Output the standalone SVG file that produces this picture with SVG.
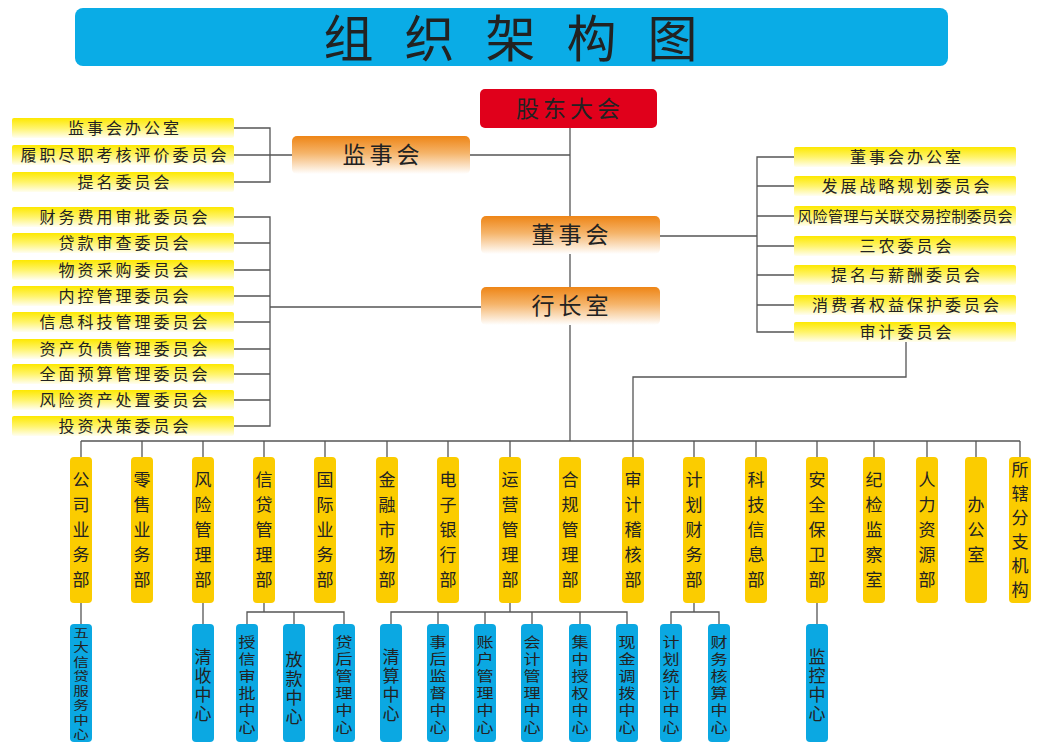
<svg xmlns="http://www.w3.org/2000/svg" width="1060" height="752" viewBox="0 0 1060 752">
<defs>
<linearGradient id="gOr" x1="0" y1="0" x2="0" y2="1">
<stop offset="0" stop-color="#ee8516"/><stop offset="0.45" stop-color="#f5b46a"/><stop offset="1" stop-color="#ffffff"/>
</linearGradient>
<linearGradient id="gYe" x1="0" y1="0" x2="0" y2="1">
<stop offset="0" stop-color="#fde800"/><stop offset="0.5" stop-color="#fff46a"/><stop offset="1" stop-color="#fffef2"/>
</linearGradient>
<style>
text{font-family:"Noto Sans CJK SC","Noto Sans",sans-serif;fill:#222}
.ln{stroke:#555;stroke-width:1.3;fill:none}
.ye{fill:url(#gYe)}
.or{fill:url(#gOr)}
.dept{fill:#fbcc00}
.sub{fill:#0ba8e2}
.t16{font-size:16px;letter-spacing:3px;text-anchor:middle}
.t22{font-size:23px;letter-spacing:4px;text-anchor:middle}
.v{font-size:17px;text-anchor:middle}
.vs{font-size:14px;text-anchor:middle}
.v8{font-size:12px;text-anchor:middle}
</style>
</defs>
<rect width="1060" height="752" fill="#ffffff"/>

<g id="title">
<rect x="75" y="8" width="873" height="58" rx="8" fill="#0aace6"/>
<text x="526" y="57" font-size="50" text-anchor="middle" letter-spacing="31" fill="#111">组织架构图</text>
</g>

<g id="connectors">
<line class="ln" x1="570" y1="128" x2="570" y2="441"/>
<line class="ln" x1="470" y1="155" x2="570" y2="155"/>
<polyline class="ln" points="234,128 270,128 270,182 234,182"/>
<line class="ln" x1="234" y1="155" x2="292" y2="155"/>
<polyline class="ln" points="234,217 270,217 270,426 234,426"/>
<line class="ln" x1="234" y1="243" x2="270" y2="243"/>
<line class="ln" x1="234" y1="270" x2="270" y2="270"/>
<line class="ln" x1="234" y1="296" x2="270" y2="296"/>
<line class="ln" x1="234" y1="322" x2="270" y2="322"/>
<line class="ln" x1="234" y1="349" x2="270" y2="349"/>
<line class="ln" x1="234" y1="374" x2="270" y2="374"/>
<line class="ln" x1="234" y1="400" x2="270" y2="400"/>
<line class="ln" x1="270" y1="307" x2="481" y2="307"/>
<line class="ln" x1="660" y1="236" x2="757" y2="236"/>
<polyline class="ln" points="794,157 757,157 757,332 794,332"/>
<line class="ln" x1="757" y1="186" x2="794" y2="186"/>
<line class="ln" x1="757" y1="216" x2="794" y2="216"/>
<line class="ln" x1="757" y1="246" x2="794" y2="246"/>
<line class="ln" x1="757" y1="275" x2="794" y2="275"/>
<line class="ln" x1="757" y1="305" x2="794" y2="305"/>
<polyline class="ln" points="906,342 906,377 633,377 633,457"/>
<line class="ln" x1="81" y1="441" x2="1020" y2="441"/>
<line class="ln" x1="81" y1="441" x2="81" y2="457"/>
<line class="ln" x1="142" y1="441" x2="142" y2="457"/>
<line class="ln" x1="203" y1="441" x2="203" y2="457"/>
<line class="ln" x1="264" y1="441" x2="264" y2="457"/>
<line class="ln" x1="325" y1="441" x2="325" y2="457"/>
<line class="ln" x1="387" y1="441" x2="387" y2="457"/>
<line class="ln" x1="448" y1="441" x2="448" y2="457"/>
<line class="ln" x1="510" y1="441" x2="510" y2="457"/>
<line class="ln" x1="694" y1="441" x2="694" y2="457"/>
<line class="ln" x1="756" y1="441" x2="756" y2="457"/>
<line class="ln" x1="817" y1="441" x2="817" y2="457"/>
<line class="ln" x1="874" y1="441" x2="874" y2="457"/>
<line class="ln" x1="927" y1="441" x2="927" y2="457"/>
<line class="ln" x1="976" y1="441" x2="976" y2="457"/>
<line class="ln" x1="1020" y1="441" x2="1020" y2="457"/>
<line class="ln" x1="81" y1="603" x2="81" y2="624"/>
<line class="ln" x1="203" y1="603" x2="203" y2="624"/>
<line class="ln" x1="264" y1="603" x2="264" y2="612"/>
<polyline class="ln" points="247,624 247,612 344,612 344,624"/>
<line class="ln" x1="294" y1="612" x2="294" y2="624"/>
<line class="ln" x1="510" y1="603" x2="510" y2="612"/>
<polyline class="ln" points="391,624 391,612 627,612 627,624"/>
<line class="ln" x1="438" y1="612" x2="438" y2="624"/>
<line class="ln" x1="485" y1="612" x2="485" y2="624"/>
<line class="ln" x1="532" y1="612" x2="532" y2="624"/>
<line class="ln" x1="580" y1="612" x2="580" y2="624"/>
<line class="ln" x1="694" y1="603" x2="694" y2="612"/>
<polyline class="ln" points="671,624 671,612 719,612 719,624"/>
<line class="ln" x1="817" y1="603" x2="817" y2="624"/>
</g>

<g id="gudong"><rect x="480" y="89" width="177" height="39" rx="5" fill="#e0001b"/><text class="t22" x="570" y="117">股东大会</text></g>
<g id="jianshihui"><rect class="or" x="292" y="136" width="178" height="38" rx="5"/><text class="t22" x="383" y="163">监事会</text></g>
<g id="dongshihui"><rect class="or" x="481" y="216" width="179" height="38" rx="5"/><text class="t22" x="572" y="243">董事会</text></g>
<g id="hangzhangshi"><rect class="or" x="481" y="287" width="179" height="38" rx="5"/><text class="t22" x="572" y="314">行长室</text></g>

<g id="left-top">
<g id="l1"><rect class="ye" x="12" y="118" width="222" height="20" rx="2"/><text class="t16" x="125" y="134">监事会办公室</text></g>
<g id="l2"><rect class="ye" x="12" y="145" width="222" height="20" rx="2"/><text class="t16" x="125" y="161">履职尽职考核评价委员会</text></g>
<g id="l3"><rect class="ye" x="12" y="172" width="222" height="20" rx="2"/><text class="t16" x="125" y="188">提名委员会</text></g>
</g>

<g id="left-bottom">
<g id="p1"><rect class="ye" x="12" y="207" width="222" height="20" rx="2"/><text class="t16" x="125" y="223">财务费用审批委员会</text></g>
<g id="p2"><rect class="ye" x="12" y="233" width="222" height="20" rx="2"/><text class="t16" x="125" y="249">贷款审查委员会</text></g>
<g id="p3"><rect class="ye" x="12" y="260" width="222" height="20" rx="2"/><text class="t16" x="125" y="276">物资采购委员会</text></g>
<g id="p4"><rect class="ye" x="12" y="286" width="222" height="20" rx="2"/><text class="t16" x="125" y="302">内控管理委员会</text></g>
<g id="p5"><rect class="ye" x="12" y="312" width="222" height="20" rx="2"/><text class="t16" x="125" y="328">信息科技管理委员会</text></g>
<g id="p6"><rect class="ye" x="12" y="339" width="222" height="20" rx="2"/><text class="t16" x="125" y="355">资产负债管理委员会</text></g>
<g id="p7"><rect class="ye" x="12" y="364" width="222" height="20" rx="2"/><text class="t16" x="125" y="380">全面预算管理委员会</text></g>
<g id="p8"><rect class="ye" x="12" y="390" width="222" height="20" rx="2"/><text class="t16" x="125" y="406">风险资产处置委员会</text></g>
<g id="p9"><rect class="ye" x="12" y="416" width="222" height="20" rx="2"/><text class="t16" x="125" y="432">投资决策委员会</text></g>
</g>

<g id="right">
<g id="r1"><rect class="ye" x="794" y="147" width="222" height="20" rx="2"/><text class="t16" x="907" y="163">董事会办公室</text></g>
<g id="r2"><rect class="ye" x="794" y="176" width="222" height="20" rx="2"/><text class="t16" x="907" y="192">发展战略规划委员会</text></g>
<g id="r3"><rect class="ye" x="794" y="206" width="222" height="20" rx="2"/><text x="905" y="222" font-size="15" text-anchor="middle" letter-spacing="0.4">风险管理与关联交易控制委员会</text></g>
<g id="r4"><rect class="ye" x="794" y="236" width="222" height="20" rx="2"/><text class="t16" x="907" y="252">三农委员会</text></g>
<g id="r5"><rect class="ye" x="794" y="265" width="222" height="20" rx="2"/><text class="t16" x="907" y="281">提名与薪酬委员会</text></g>
<g id="r6"><rect class="ye" x="794" y="295" width="222" height="20" rx="2"/><text class="t16" x="907" y="311">消费者权益保护委员会</text></g>
<g id="r7"><rect class="ye" x="794" y="322" width="222" height="20" rx="2"/><text class="t16" x="907" y="338">审计委员会</text></g>
</g>

<g id="departments">
<g id="d1"><rect class="dept" x="70" y="457" width="22" height="146" rx="4"/><text class="v"><tspan x="81" y="486">公</tspan><tspan x="81" y="511">司</tspan><tspan x="81" y="536">业</tspan><tspan x="81" y="561">务</tspan><tspan x="81" y="586">部</tspan></text></g>
<g id="d2"><rect class="dept" x="131" y="457" width="22" height="146" rx="4"/><text class="v"><tspan x="142" y="486">零</tspan><tspan x="142" y="511">售</tspan><tspan x="142" y="536">业</tspan><tspan x="142" y="561">务</tspan><tspan x="142" y="586">部</tspan></text></g>
<g id="d3"><rect class="dept" x="192" y="457" width="22" height="146" rx="4"/><text class="v"><tspan x="203" y="486">风</tspan><tspan x="203" y="511">险</tspan><tspan x="203" y="536">管</tspan><tspan x="203" y="561">理</tspan><tspan x="203" y="586">部</tspan></text></g>
<g id="d4"><rect class="dept" x="253" y="457" width="22" height="146" rx="4"/><text class="v"><tspan x="264" y="486">信</tspan><tspan x="264" y="511">贷</tspan><tspan x="264" y="536">管</tspan><tspan x="264" y="561">理</tspan><tspan x="264" y="586">部</tspan></text></g>
<g id="d5"><rect class="dept" x="314" y="457" width="22" height="146" rx="4"/><text class="v"><tspan x="325" y="486">国</tspan><tspan x="325" y="511">际</tspan><tspan x="325" y="536">业</tspan><tspan x="325" y="561">务</tspan><tspan x="325" y="586">部</tspan></text></g>
<g id="d6"><rect class="dept" x="376" y="457" width="22" height="146" rx="4"/><text class="v"><tspan x="387" y="486">金</tspan><tspan x="387" y="511">融</tspan><tspan x="387" y="536">市</tspan><tspan x="387" y="561">场</tspan><tspan x="387" y="586">部</tspan></text></g>
<g id="d7"><rect class="dept" x="437" y="457" width="22" height="146" rx="4"/><text class="v"><tspan x="448" y="486">电</tspan><tspan x="448" y="511">子</tspan><tspan x="448" y="536">银</tspan><tspan x="448" y="561">行</tspan><tspan x="448" y="586">部</tspan></text></g>
<g id="d8"><rect class="dept" x="499" y="457" width="22" height="146" rx="4"/><text class="v"><tspan x="510" y="486">运</tspan><tspan x="510" y="511">营</tspan><tspan x="510" y="536">管</tspan><tspan x="510" y="561">理</tspan><tspan x="510" y="586">部</tspan></text></g>
<g id="d9"><rect class="dept" x="559" y="457" width="22" height="146" rx="4"/><text class="v"><tspan x="570" y="486">合</tspan><tspan x="570" y="511">规</tspan><tspan x="570" y="536">管</tspan><tspan x="570" y="561">理</tspan><tspan x="570" y="586">部</tspan></text></g>
<g id="d10"><rect class="dept" x="622" y="457" width="22" height="146" rx="4"/><text class="v"><tspan x="633" y="486">审</tspan><tspan x="633" y="511">计</tspan><tspan x="633" y="536">稽</tspan><tspan x="633" y="561">核</tspan><tspan x="633" y="586">部</tspan></text></g>
<g id="d11"><rect class="dept" x="683" y="457" width="22" height="146" rx="4"/><text class="v"><tspan x="694" y="486">计</tspan><tspan x="694" y="511">划</tspan><tspan x="694" y="536">财</tspan><tspan x="694" y="561">务</tspan><tspan x="694" y="586">部</tspan></text></g>
<g id="d12"><rect class="dept" x="745" y="457" width="22" height="146" rx="4"/><text class="v"><tspan x="756" y="486">科</tspan><tspan x="756" y="511">技</tspan><tspan x="756" y="536">信</tspan><tspan x="756" y="561">息</tspan><tspan x="756" y="586">部</tspan></text></g>
<g id="d13"><rect class="dept" x="806" y="457" width="22" height="146" rx="4"/><text class="v"><tspan x="817" y="486">安</tspan><tspan x="817" y="511">全</tspan><tspan x="817" y="536">保</tspan><tspan x="817" y="561">卫</tspan><tspan x="817" y="586">部</tspan></text></g>
<g id="d14"><rect class="dept" x="863" y="457" width="22" height="146" rx="4"/><text class="v"><tspan x="874" y="486">纪</tspan><tspan x="874" y="511">检</tspan><tspan x="874" y="536">监</tspan><tspan x="874" y="561">察</tspan><tspan x="874" y="586">室</tspan></text></g>
<g id="d15"><rect class="dept" x="916" y="457" width="22" height="146" rx="4"/><text class="v"><tspan x="927" y="486">人</tspan><tspan x="927" y="511">力</tspan><tspan x="927" y="536">资</tspan><tspan x="927" y="561">源</tspan><tspan x="927" y="586">部</tspan></text></g>
<g id="d16"><rect class="dept" x="965" y="457" width="22" height="146" rx="4"/><text class="v"><tspan x="976" y="511">办</tspan><tspan x="976" y="536">公</tspan><tspan x="976" y="561">室</tspan></text></g>
<g id="d17"><rect class="dept" x="1009" y="457" width="22" height="146" rx="4"/><text class="v"><tspan x="1020" y="476">所</tspan><tspan x="1020" y="500">辖</tspan><tspan x="1020" y="524">分</tspan><tspan x="1020" y="548">支</tspan><tspan x="1020" y="572">机</tspan><tspan x="1020" y="596">构</tspan></text></g>
</g>

<g id="centers">
<g id="c1"><rect class="sub" x="70" y="624" width="22" height="118" rx="4"/><text class="v8" transform="translate(81,0) scale(1.3,1)"><tspan x="0" y="638">五</tspan><tspan x="0" y="652.5">大</tspan><tspan x="0" y="667">信</tspan><tspan x="0" y="681.5">贷</tspan><tspan x="0" y="696">服</tspan><tspan x="0" y="710.5">务</tspan><tspan x="0" y="725">中</tspan><tspan x="0" y="739">心</tspan></text></g>
<g id="c2"><rect class="sub" x="192" y="624" width="22" height="118" rx="4"/><text class="v"><tspan x="203" y="663">清</tspan><tspan x="203" y="682">收</tspan><tspan x="203" y="701">中</tspan><tspan x="203" y="720">心</tspan></text></g>
<g id="c3"><rect class="sub" x="236" y="624" width="22" height="118" rx="4"/><text class="vs" transform="translate(247,0) scale(1.22,1)"><tspan x="0" y="647">授</tspan><tspan x="0" y="664">信</tspan><tspan x="0" y="681">审</tspan><tspan x="0" y="698">批</tspan><tspan x="0" y="715">中</tspan><tspan x="0" y="732">心</tspan></text></g>
<g id="c4"><rect class="sub" x="283" y="624" width="22" height="118" rx="4"/><text class="v"><tspan x="294" y="666">放</tspan><tspan x="294" y="685">款</tspan><tspan x="294" y="704">中</tspan><tspan x="294" y="723">心</tspan></text></g>
<g id="c5"><rect class="sub" x="333" y="624" width="22" height="118" rx="4"/><text class="vs" transform="translate(344,0) scale(1.22,1)"><tspan x="0" y="647">贷</tspan><tspan x="0" y="664">后</tspan><tspan x="0" y="681">管</tspan><tspan x="0" y="698">理</tspan><tspan x="0" y="715">中</tspan><tspan x="0" y="732">心</tspan></text></g>
<g id="c6"><rect class="sub" x="380" y="624" width="22" height="118" rx="4"/><text class="v"><tspan x="391" y="663">清</tspan><tspan x="391" y="682">算</tspan><tspan x="391" y="701">中</tspan><tspan x="391" y="720">心</tspan></text></g>
<g id="c7"><rect class="sub" x="427" y="624" width="22" height="118" rx="4"/><text class="vs" transform="translate(438,0) scale(1.22,1)"><tspan x="0" y="647">事</tspan><tspan x="0" y="664">后</tspan><tspan x="0" y="681">监</tspan><tspan x="0" y="698">督</tspan><tspan x="0" y="715">中</tspan><tspan x="0" y="732">心</tspan></text></g>
<g id="c8"><rect class="sub" x="474" y="624" width="22" height="118" rx="4"/><text class="vs" transform="translate(485,0) scale(1.22,1)"><tspan x="0" y="647">账</tspan><tspan x="0" y="664">户</tspan><tspan x="0" y="681">管</tspan><tspan x="0" y="698">理</tspan><tspan x="0" y="715">中</tspan><tspan x="0" y="732">心</tspan></text></g>
<g id="c9"><rect class="sub" x="521" y="624" width="22" height="118" rx="4"/><text class="vs" transform="translate(532,0) scale(1.22,1)"><tspan x="0" y="647">会</tspan><tspan x="0" y="664">计</tspan><tspan x="0" y="681">管</tspan><tspan x="0" y="698">理</tspan><tspan x="0" y="715">中</tspan><tspan x="0" y="732">心</tspan></text></g>
<g id="c10"><rect class="sub" x="569" y="624" width="22" height="118" rx="4"/><text class="vs" transform="translate(580,0) scale(1.22,1)"><tspan x="0" y="647">集</tspan><tspan x="0" y="664">中</tspan><tspan x="0" y="681">授</tspan><tspan x="0" y="698">权</tspan><tspan x="0" y="715">中</tspan><tspan x="0" y="732">心</tspan></text></g>
<g id="c11"><rect class="sub" x="616" y="624" width="22" height="118" rx="4"/><text class="vs" transform="translate(627,0) scale(1.22,1)"><tspan x="0" y="647">现</tspan><tspan x="0" y="664">金</tspan><tspan x="0" y="681">调</tspan><tspan x="0" y="698">拨</tspan><tspan x="0" y="715">中</tspan><tspan x="0" y="732">心</tspan></text></g>
<g id="c12"><rect class="sub" x="660" y="624" width="22" height="118" rx="4"/><text class="vs" transform="translate(671,0) scale(1.22,1)"><tspan x="0" y="647">计</tspan><tspan x="0" y="664">划</tspan><tspan x="0" y="681">统</tspan><tspan x="0" y="698">计</tspan><tspan x="0" y="715">中</tspan><tspan x="0" y="732">心</tspan></text></g>
<g id="c13"><rect class="sub" x="708" y="624" width="22" height="118" rx="4"/><text class="vs" transform="translate(719,0) scale(1.22,1)"><tspan x="0" y="647">财</tspan><tspan x="0" y="664">务</tspan><tspan x="0" y="681">核</tspan><tspan x="0" y="698">算</tspan><tspan x="0" y="715">中</tspan><tspan x="0" y="732">心</tspan></text></g>
<g id="c14"><rect class="sub" x="806" y="624" width="22" height="118" rx="4"/><text class="v"><tspan x="817" y="663">监</tspan><tspan x="817" y="682">控</tspan><tspan x="817" y="701">中</tspan><tspan x="817" y="720">心</tspan></text></g>
</g>
</svg>
